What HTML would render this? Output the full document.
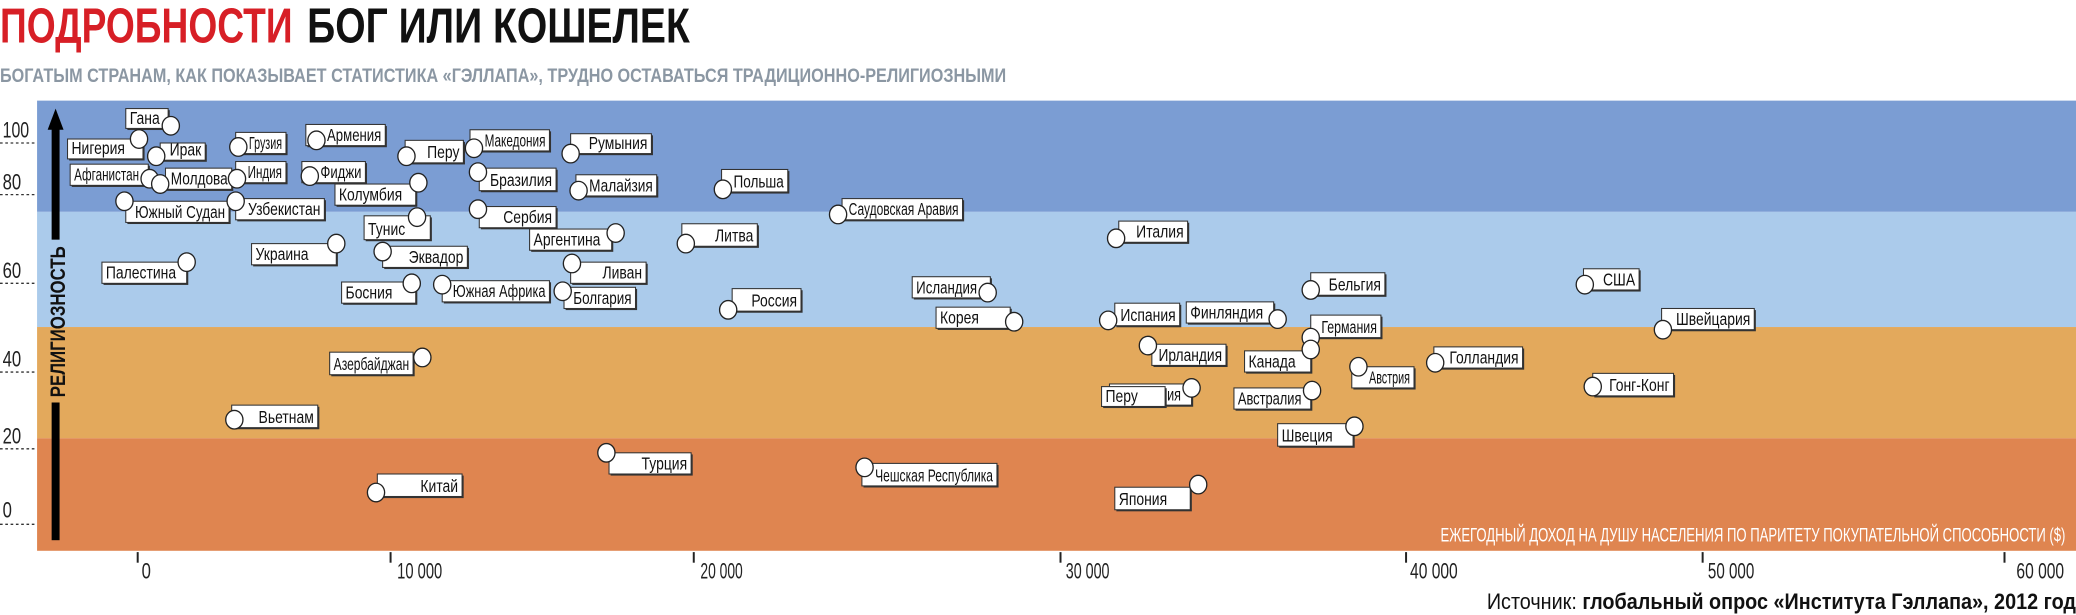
<!DOCTYPE html>
<html><head><meta charset="utf-8">
<style>
html,body{margin:0;padding:0;background:#fff;}
svg{display:block;}
text{font-family:"Liberation Sans Narrow","Liberation Sans","DejaVu Sans Condensed",sans-serif;}
</style></head>
<body>
<svg id="s" width="2076" height="615" viewBox="0 0 1568 464.5" preserveAspectRatio="none" xmlns="http://www.w3.org/2000/svg">
<rect x="0" y="0" width="1568" height="464.5" fill="#fff"/>
<text x="0" y="32" font-size="37" font-weight="bold" fill="#d71f26" textLength="221" lengthAdjust="spacingAndGlyphs">ПОДРОБНОСТИ</text>
<text x="232" y="32" font-size="37" font-weight="bold" fill="#111" textLength="289" lengthAdjust="spacingAndGlyphs">БОГ ИЛИ КОШЕЛЕК</text>
<text x="0" y="62" font-size="15" font-weight="bold" fill="#8b97a3" textLength="760" lengthAdjust="spacingAndGlyphs">БОГАТЫМ СТРАНАМ, КАК ПОКАЗЫВАЕТ СТАТИСТИКА «ГЭЛЛАПА», ТРУДНО ОСТАВАТЬСЯ ТРАДИЦИОННО-РЕЛИГИОЗНЫМИ</text>
<rect x="28" y="76" width="1540" height="84" fill="#7b9dd3"/>
<rect x="28" y="160" width="1540" height="87" fill="#abcbeb"/>
<rect x="28" y="247" width="1540" height="84" fill="#e3a95c"/>
<rect x="28" y="331" width="1540" height="85" fill="#df8550"/>
<g fill="#222" font-size="17">
<text x="2" y="104" textLength="20" lengthAdjust="spacingAndGlyphs">100</text>
<text x="2" y="143" textLength="14" lengthAdjust="spacingAndGlyphs">80</text>
<text x="2" y="210" textLength="14" lengthAdjust="spacingAndGlyphs">60</text>
<text x="2" y="277" textLength="14" lengthAdjust="spacingAndGlyphs">40</text>
<text x="2" y="335" textLength="14" lengthAdjust="spacingAndGlyphs">20</text>
<text x="2" y="391" textLength="7" lengthAdjust="spacingAndGlyphs">0</text>
</g>
<g stroke="#333" stroke-width="1" stroke-dasharray="2,2">
<line x1="0" y1="108" x2="28" y2="108"/><line x1="0" y1="147" x2="28" y2="147"/>
<line x1="0" y1="214" x2="28" y2="214"/><line x1="0" y1="281" x2="28" y2="281"/>
<line x1="0" y1="339" x2="28" y2="339"/><line x1="0" y1="396" x2="28" y2="396"/>
</g>
<polygon points="42,82 36,98 48,98" fill="#000"/>
<rect x="39" y="96" width="6" height="85" fill="#000"/>
<text transform="translate(49,300) rotate(-90)" font-size="16" font-weight="bold" fill="#111" textLength="114" lengthAdjust="spacingAndGlyphs">РЕЛИГИОЗНОСТЬ</text>
<rect x="39" y="304" width="6" height="104" fill="#000"/>
<g stroke="#222" stroke-width="1.5">
<line x1="104" y1="417" x2="104" y2="425"/><line x1="295" y1="417" x2="295" y2="425"/>
<line x1="524" y1="417" x2="524" y2="425"/><line x1="801" y1="417" x2="801" y2="425"/>
<line x1="1062" y1="417" x2="1062" y2="425"/><line x1="1286" y1="417" x2="1286" y2="425"/>
<line x1="1514" y1="417" x2="1514" y2="425"/>
</g>
<g fill="#222" font-size="17">
<text x="107" y="437" textLength="7" lengthAdjust="spacingAndGlyphs">0</text>
<text x="300" y="437" textLength="34" lengthAdjust="spacingAndGlyphs">10 000</text>
<text x="529" y="437" textLength="32" lengthAdjust="spacingAndGlyphs">20 000</text>
<text x="805" y="437" textLength="33" lengthAdjust="spacingAndGlyphs">30 000</text>
<text x="1065" y="437" textLength="36" lengthAdjust="spacingAndGlyphs">40 000</text>
<text x="1290" y="437" textLength="35" lengthAdjust="spacingAndGlyphs">50 000</text>
<text x="1523" y="437" textLength="36" lengthAdjust="spacingAndGlyphs">60 000</text>
</g>
<text x="1088" y="409" font-size="15" fill="#fff" textLength="472" lengthAdjust="spacingAndGlyphs">ЕЖЕГОДНЫЙ ДОХОД НА ДУШУ НАСЕЛЕНИЯ ПО ПАРИТЕТУ ПОКУПАТЕЛЬНОЙ СПОСОБНОСТИ ($)</text>
<text x="1123" y="460" font-size="17" fill="#111" textLength="445" lengthAdjust="spacingAndGlyphs">Источник: <tspan font-weight="bold">глобальный опрос «Института Гэллапа», 2012 год</tspan></text>
<g id="labels"></g>
</svg>
<script>
var L=[
["Гана",95,82,127,97,129,95],["Нигерия",51,105,108,120,105,105],["Ирак",121,108,155,121,118,118],
["Афганистан",53,124,112,140,113,135],["Молдова",125,127,175,143,121,139],["Грузия",178,100,216,116,180,111],
["Индия",178,122,216,138,179,135],["Армения",231,94,291,110,239,106],["Фиджи",228,122,276,138,234,133],
["Перу",306,106,350,123,307,118],["Колумбия",253,139,314,155,316,138],["Южный Судан",95,152,173,168,94,152],
["Узбекистан",178,150,245,166,178,152],["Македония",355,98,415,114,358,112],["Бразилия",362,127,420,144,361,130],
["Сербия",362,156,420,172,361,158],["Румыния",431,101,492,116,431,116],["Малайзия",435,132,496,148,437,144],
["Тунис",275,163,325,181,315,164],["Украина",190,184,254,200,254,184],["Палестина",77,198,141,214,141,198],
["Эквадор",289,186,353,202,289,190],["Босния",258,213,314,229,311,214],["Южная Африка",334,212,415,228,334,215],
["Аргентина",400,173,462,189,465,176],["Ливан",431,198,488,214,432,199],["Болгария",426,217,480,233,425,220],
["Литва",515,169,572,186,518,184],["Польша",545,128,595,145,546,143],["Саудовская Аравия",636,150,727,166,633,162],
["Россия",553,218,605,235,550,234],["Исландия",689,209,748,225,746,221],["Корея",707,232,763,248,766,243],
["Италия",845,167,897,183,843,180],["Испания",842,229,891,246,837,242],["Финляндия",896,228,962,244,965,241],
["Бельгия",990,206,1046,223,990,219],["Германия",990,238,1043,255,990,255],["Ирландия",870,260,926,276,867,261],
["Канада",940,265,990,281,990,264],["Португалия",838,290,900,306,900,293],["Перу",832,292,880,307,null,null],
["Австралия",932,293,990,309,991,295],["Швеция",965,320,1022,337,1023,322],["Австрия",1021,277,1068,293,1026,277],
["Голландия",1083,262,1150,278,1084,274],["США",1196,203,1238,219,1197,215],["Швейцария",1255,233,1325,249,1256,249],
["Гонг-Конг",1203,282,1264,299,1203,292],["Азербайджан",249,266,312,283,319,270],["Вьетнам",175,306,240,323,177,317],
["Китай",285,358,349,375,284,372],["Турция",460,342,522,358,458,342],["Чешская Республика",651,350,753,367,653,353],
["Япония",842,368,899,385,905,366]];
var NS="http://www.w3.org/2000/svg",g=document.getElementById("labels");
function el(n,a,p){var e=document.createElementNS(NS,n);for(var k in a)e.setAttribute(k,a[k]);(p||g).appendChild(e);return e;}
var circles=[];
L.forEach(function(d){
 var x1=d[1],y1=d[2],x2=d[3],y2=d[4],cx=d[5],cy=d[6];
 el("rect",{x:x1+1.2,y:y1+1.2,width:x2-x1,height:y2-y1,fill:"#333"});
 el("rect",{x:x1,y:y1,width:x2-x1,height:y2-y1,fill:"#fff",stroke:"#333","stroke-width":0.8});
 var left=x1+3,right=x2-3;
 if(cx!==null){ if(cx<(x1+x2)/2) left=Math.max(left,cx+8); else right=Math.min(right,cx-8); }
 var t=el("text",{y:y2-3.5,"font-size":13.5,fill:"#111"});t.textContent=d[0];
 var w=t.getComputedTextLength()*0.78,avail=right-left;
 if(w>avail)w=avail;
 t.setAttribute("textLength",w);t.setAttribute("lengthAdjust","spacingAndGlyphs");
 if(cx!==null&&cx<(x1+x2)/2) t.setAttribute("x",right-w); else t.setAttribute("x",left);
 if(cx!==null) circles.push([cx,cy]);
});
circles.forEach(function(c){el("ellipse",{cx:c[0],cy:c[1],rx:6.5,ry:7,fill:"#fff",stroke:"#222","stroke-width":1});});
</script>
</body></html>
